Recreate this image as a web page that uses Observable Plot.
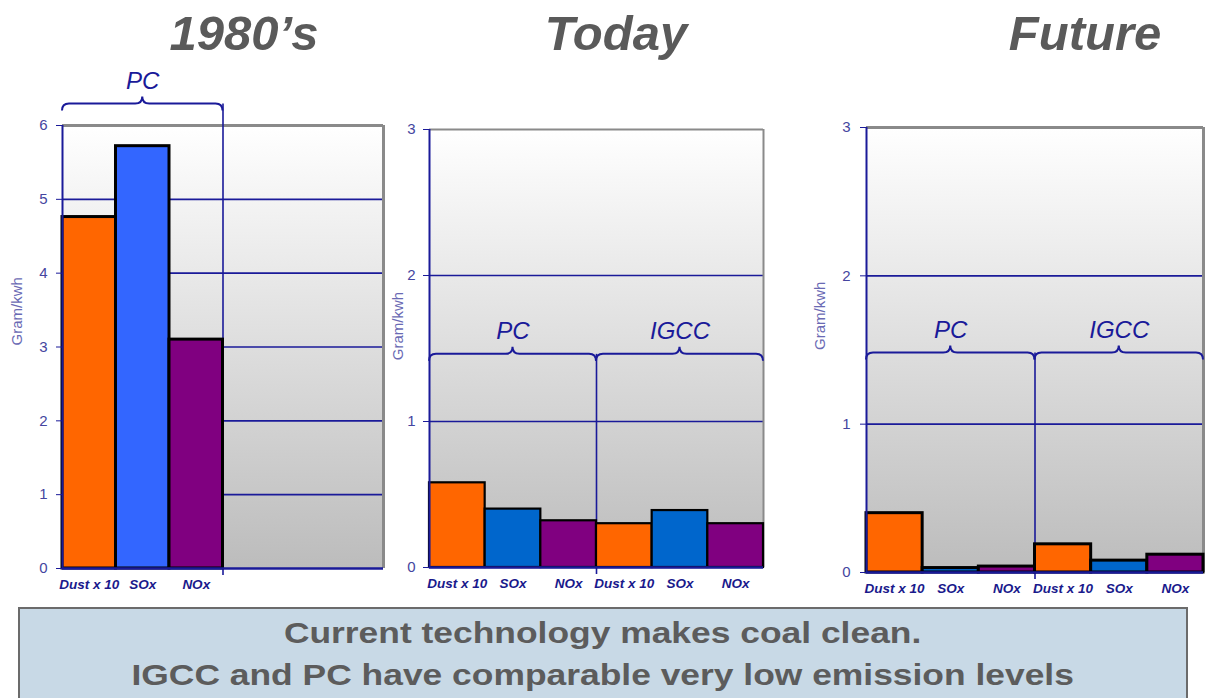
<!DOCTYPE html>
<html><head><meta charset="utf-8">
<script src="https://cdn.jsdelivr.net/npm/d3@7"></script>
<script src="https://cdn.jsdelivr.net/npm/@observablehq/plot@0.6"></script>
<style>
body{margin:0;background:#fff;font-family:"Liberation Sans",Arial,sans-serif;}
#root{position:relative;width:1206px;height:698px;overflow:hidden;background:#fff;}
.title{position:absolute;top:0;font-weight:bold;font-style:italic;font-size:49px;color:#5a5a5a;text-align:center;width:300px;line-height:66px;}
.panel{position:absolute;top:60px;}
#note{position:absolute;left:18px;top:607px;width:1170px;height:110px;background:#c8d9e6;border:2px solid #6b6b6b;text-align:center;font-weight:bold;font-size:29.5px;line-height:42px;color:#5c5c5c;padding-top:3px;box-sizing:border-box;white-space:nowrap;}
#note span{display:inline-block;transform:scaleX(1.2);transform-origin:center;}
</style></head>
<body><div id="root"></div>
<script>
// ---------- data ----------
const pollutants = ["Dust x 10", "SOx", "NOx"];
const colors1980 = ["#FF6600", "#3366FF", "#800080"];
const colorsLater = ["#FF6600", "#0066CC", "#800080"];
const pc1980 = [4.76, 5.72, 3.10];
const pcToday = [0.58, 0.40, 0.32];
const igccToday = [0.30, 0.39, 0.30];
const pcFuture = [0.40, 0.03, 0.04];
const igccFuture = [0.19, 0.08, 0.12];
const titles = ["1980’s", "Today", "Future"];
const yTicks1980 = [0, 1, 2, 3, 4, 5, 6];
const yTicksLater = [0, 1, 2, 3];
const yLabel = "Gram/kwh";
const noteLines = ["Current technology makes coal clean.", "IGCC and PC have comparable very low emission levels"];

// ---------- style ----------
const NAVY = "#1a1a99";
const TICKTXT = "#4545a0";
const GRAY = "#8a8a8a";

const root = document.getElementById("root");

function makeRows(groups, colors) {
  const rows = [];
  groups.forEach(g => g.values.forEach((v, i) => {
    rows.push({tech: g.tech, pollutant: pollutants[i], value: v, color: colors[i], slot: rows.length});
  }));
  return rows;
}

function gradientBg(id) {
  return (index, scales, values, dim) => {
    const g = d3.create("svg:g");
    const lg = g.append("defs").append("linearGradient").attr("id", id)
      .attr("x1", 0).attr("y1", 0).attr("x2", 0).attr("y2", 1);
    lg.append("stop").attr("offset", "0%").attr("stop-color", "#ffffff");
    lg.append("stop").attr("offset", "100%").attr("stop-color", "#bcbcbc");
    g.append("rect").attr("x", dim.marginLeft).attr("y", dim.marginTop)
      .attr("width", dim.width - dim.marginLeft - dim.marginRight)
      .attr("height", dim.height - dim.marginTop - dim.marginBottom)
      .attr("fill", `url(#${id})`);
    return g.node();
  };
}

function braceMark(list, yLevel, h) {
  return (index, scales) => {
    const {x, y} = scales;
    const g = d3.create("svg:g").attr("fill", "none").attr("stroke", NAVY).attr("stroke-width", 2);
    for (const b of list) {
      const x0 = x(b.from), x1 = x(b.to), xm = (x0 + x1) / 2, yy = y(yLevel);
      const p = d3.path();
      p.moveTo(x0, yy + h);
      p.quadraticCurveTo(x0, yy, x0 + h, yy);
      p.lineTo(xm - h, yy);
      p.quadraticCurveTo(xm, yy, xm, yy - h);
      p.quadraticCurveTo(xm, yy, xm + h, yy);
      p.lineTo(x1 - h, yy);
      p.quadraticCurveTo(x1, yy, x1, yy + h);
      g.append("path").attr("d", p.toString());
    }
    return g.node();
  };
}

const panels = [
  {groups: [{tech: "PC", values: pc1980}], colors: colors1980, ticks: yTicks1980,
   left: 0, width: 390, mt: 65, mr: 7, mb: 32, ml: 62, braceY: 6.29, labelY: 3.02, labelDx: -45.5,
   barStroke: 3, topStroke: 3, tickPad: 9},
  {groups: [{tech: "PC", values: pcToday}, {tech: "IGCC", values: igccToday}], colors: colorsLater, ticks: yTicksLater,
   left: 390, width: 380, mt: 69, mr: 7, mb: 33, ml: 39, braceY: 1.46, labelY: 1.42, labelDx: -31.5,
   barStroke: 2.2, topStroke: 2, tickPad: 8},
  {groups: [{tech: "PC", values: pcFuture}, {tech: "IGCC", values: igccFuture}], colors: colorsLater, ticks: yTicksLater,
   left: 806, width: 400, mt: 67, mr: 3, mb: 28, ml: 60, braceY: 1.48, labelY: 1.50, labelDx: -46,
   barStroke: 3, topStroke: 3, tickPad: 10}
];

const titleCenters = [244, 616, 1085];
titles.forEach((t, i) => {
  const d = document.createElement("div");
  d.className = "title";
  d.style.left = (titleCenters[i] - 150) + "px";
  d.textContent = t;
  root.appendChild(d);
});

panels.forEach((p, pi) => {
  const rows = makeRows(p.groups, p.colors);
  const ymax = p.ticks[p.ticks.length - 1];
  const grid = p.ticks.filter(t => t > 0 && t < ymax);
  const braceList = [];
  let s = 0;
  p.groups.forEach(g => { braceList.push({tech: g.tech, from: s, to: s + g.values.length}); s += g.values.length; });
  const dividers = braceList.map(b => b.to).filter(v => v < 6 || p.groups.length === 1);

  const chart = Plot.plot({
    width: p.width, height: 540,
    marginTop: p.mt, marginRight: p.mr, marginBottom: p.mb, marginLeft: p.ml,
    x: {domain: [0, 6], axis: null},
    y: {domain: [0, ymax], axis: null},
    color: {type: "identity"},
    style: {fontFamily: "Liberation Sans, Arial, sans-serif", background: "transparent", overflow: "visible"},
    marks: [
      gradientBg("bg" + pi),
      Plot.ruleY(grid, {stroke: NAVY, strokeWidth: 1.6}),
      Plot.ruleY([ymax], {stroke: GRAY, strokeWidth: p.topStroke}),
      Plot.ruleX([6], {stroke: GRAY, strokeWidth: p.topStroke}),
      Plot.ruleX(dividers, {x: d => d, y1: () => 0, y2: () => p.braceY, insetTop: 7, stroke: NAVY, strokeWidth: 1.6}),
      Plot.rect(rows, {x1: d => d.slot, x2: d => d.slot + 1, y1: () => 0, y2: "value",
        fill: d => d.color, stroke: "#000", strokeWidth: p.barStroke}),
      Plot.ruleX([0], {stroke: NAVY, strokeWidth: 2}),
      Plot.ruleY([0], {stroke: NAVY, strokeWidth: 2.5}),
      Plot.axisY({ticks: p.ticks, tickSize: 6, tickPadding: p.tickPad, fontSize: 15, stroke: NAVY, fill: TICKTXT, label: null, tickFormat: d => String(d)}),
      Plot.text([yLabel], {frameAnchor: "left", y: () => p.labelY, rotate: -90, dx: p.labelDx, text: d => d,
        fontSize: 15, fill: "#6a6ab4"}),
      Plot.text(rows, {x: d => d.slot + 0.5, frameAnchor: "bottom", dy: 20, text: "pollutant",
        fontSize: 13.5, fontWeight: "bold", fontStyle: "italic", fill: "#1a1a8c"}),
      braceMark(braceList, p.braceY, 7),
      Plot.text(braceList, {x: d => (d.from + d.to) / 2, y: () => p.braceY, text: "tech", dy: -15, lineAnchor: "bottom",
        fontSize: 24, fontStyle: "italic", fill: NAVY})
    ]
  });
  chart.classList.add("panel");
  chart.style.left = p.left + "px";
  root.appendChild(chart);
});

const note = document.createElement("div");
note.id = "note";
note.innerHTML = noteLines.map(l => `<div><span>${l}</span></div>`).join("");
root.appendChild(note);
</script>
</body></html>
